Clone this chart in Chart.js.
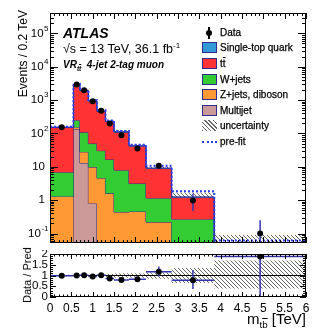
<!DOCTYPE html>
<html>
<head>
<meta charset="utf-8">
<title>m_tb VR tt 4-jet 2-tag muon</title>
<script src="https://cdn.jsdelivr.net/npm/chart.js@4.4.1/dist/chart.umd.min.js"></script>
<style>
body { margin: 0; background: #fff; }
#wrap { position: relative; width: 332px; height: 332px; overflow: hidden; font-family: "Liberation Sans", Arial, Helvetica, sans-serif; color: #000; }
#wrap canvas { position: absolute; left: 0; }
.t { position: absolute; white-space: nowrap; }
.leg { position: absolute; left: 202px; width: 120px; height: 12px; line-height: 12px; font-size: 10px; white-space: nowrap; -webkit-text-stroke: 0.25px #000; }
.leg .sw { position: absolute; left: 0; top: 0; width: 13px; height: 9px; border: 1px solid #2e2a8f; }
.leg .lab { position: absolute; left: 18px; top: 0; }
.ov { text-decoration: overline; }
sup, sub { font-size: 0.65em; line-height: 0; }
</style>
</head>
<body>
<div id="wrap">
  <canvas id="top" width="332" height="250" style="top:0"></canvas>
  <canvas id="ratio" width="332" height="82" style="top:250px"></canvas>

  <div class="t" style="left:63px;top:25px;font:italic bold 14px 'Liberation Sans', Arial, sans-serif;line-height:16px;">ATLAS</div>
  <div class="t" style="left:63px;top:42px;font-size:12.5px;line-height:14px;">√s = 13 TeV, 36.1 fb<sup>-1</sup></div>
  <div class="t" style="left:63px;top:59px;font:italic bold 10px 'Liberation Sans', Arial, sans-serif;line-height:12px;">VR<sub>t<span class="ov">t</span></sub>&nbsp;&nbsp;4-jet 2-tag muon</div>

  <div class="leg" style="top:27px;">
    <span style="position:absolute;left:6px;top:0;width:2px;height:12px;background:#000;"></span>
    <span style="position:absolute;left:4px;top:3px;width:6px;height:6px;border-radius:50%;background:#000;"></span>
    <span class="lab">Data</span>
  </div>
  <div class="leg" style="top:42px;"><span class="sw" style="background:#3399d6;"></span><span class="lab">Single-top quark</span></div>
  <div class="leg" style="top:58px;"><span class="sw" style="background:#ff3333;"></span><span class="lab">t<span class="ov">t</span></span></div>
  <div class="leg" style="top:74px;"><span class="sw" style="background:#33cc33;"></span><span class="lab">W+jets</span></div>
  <div class="leg" style="top:89px;"><span class="sw" style="background:#ff9933;"></span><span class="lab">Z+jets, diboson</span></div>
  <div class="leg" style="top:105px;"><span class="sw" style="background:#cc9999;"></span><span class="lab">Multijet</span></div>
  <div class="leg" style="top:120px;"><span class="sw" style="border:none;width:15px;height:11px;background:repeating-linear-gradient(45deg,#666 0 1px,#fff 1px 3px);"></span><span class="lab">uncertainty</span></div>
  <div class="leg" style="top:136px;"><span style="position:absolute;left:0;top:5px;width:15px;border-top:2px dotted #2a3cf5;"></span><span class="lab">pre-fit</span></div>

  <div class="t" style="left:16px;top:10px;width:14px;writing-mode:vertical-rl;transform:rotate(180deg);font-size:12px;line-height:14px;">Events / 0.2 TeV</div>
  <div class="t" style="left:20px;top:246px;width:14px;height:58px;text-align:center;writing-mode:vertical-rl;transform:rotate(180deg);font-size:11px;line-height:14px;">Data / Pred</div>
  <div class="t" style="right:26px;top:310px;font-size:15px;line-height:18px;">m<sub>t<span class="ov">b</span></sub> [TeV]</div>
</div>

<script>
// bin edges in TeV
const binEdges = [0, 0.55, 0.7, 0.9, 1.1, 1.3, 1.5, 1.85, 2.25, 2.85, 3.85, 6];

// events / 0.2 TeV per process (post-fit), bottom of the stack first
const multijet     = [0, 133, 13, 0.8, 0, 0, 0, 0, 0, 0, 0];
const zjetsDiboson = [1.3, 22, 15, 9, 4.6, 1.6, 0.44, 0.46, 0.22, 0.03, 0.003];
const wjets        = [5.6, 95, 80, 40, 26, 15, 7.5, 2.7, 0.93, 0.24, 0.02];
const ttbar        = [144, 2620, 1797, 883, 430, 209, 101, 38.6, 7.75, 0.94, 0.028];
const singleTop    = [4, 80, 55, 27, 14, 6.5, 3, 1.2, 0.3, 0.04, 0.002];

const preFit      = [160, 3050, 2030, 990, 495, 245, 118, 46, 10.8, 1.85, 0.062];
const dataVals    = [153, 2960, 1980, 920, 480, 200, 88, 35.5, 10.8, 0.97, 0.1];
const dataErrUp   = [12, 55, 45, 30, 22, 15, 10, 5, 2.2, 0.6, 0.15];
const dataErrDown = [12, 55, 45, 30, 22, 15, 10, 5, 2.0, 0.5, 0.1];

// relative uncertainty of the prediction
const uncUp   = [0.03, 0.03, 0.03, 0.03, 0.04, 0.08, 0.1, 0.1, 0.15, 0.35, 0.7];
const uncDown = [0.03, 0.03, 0.03, 0.03, 0.04, 0.08, 0.1, 0.1, 0.15, 0.35, 0.6];

// axis ticks
const logTickExps  = [-1, 0, 1, 2, 3, 4, 5];
const ratioTicks   = [0, 0.5, 1, 1.5, 2];

const nBins = binEdges.length - 1;
const binCenters = binEdges.slice(0, -1).map((e, i) => (e + binEdges[i + 1]) / 2);

// cumulative stack tops (log axis drops zeros, so keep a floor below the axis)
const layers = [multijet, zjetsDiboson, wjets, ttbar, singleTop];
const stackTops = [];
let run = new Array(nBins).fill(0);
layers.forEach(l => {
  run = run.map((v, i) => v + l[i]);
  stackTops.push(run.map(v => Math.max(v, 1e-3)));
});
const total = run;
const ratio = dataVals.map((v, i) => v / total[i]);
const ratioErrUp = dataErrUp.map((v, i) => v / total[i]);
const ratioErrDown = dataErrDown.map((v, i) => v / total[i]);

function steps(vals) {
  return binEdges.map((e, i) => ({ x: e, y: vals[Math.min(i, nBins - 1)] }));
}

function hatch(canvasId) {
  const c = document.createElement('canvas');
  c.width = 4; c.height = 4;
  const g = c.getContext('2d');
  g.strokeStyle = '#666';
  g.lineWidth = 1;
  g.beginPath();
  g.moveTo(0, 0); g.lineTo(4, 4);
  g.moveTo(-1, 3); g.lineTo(1, 5);
  g.moveTo(3, -1); g.lineTo(5, 1);
  g.stroke();
  return document.getElementById(canvasId).getContext('2d').createPattern(c, 'repeat');
}

const edgeColor = '#2e2a8f';
const errColor = '#3535b0';

function makeErrorBars(values, up, down, afterIndex, xbars) {
  return {
    id: 'errbars',
    afterDatasetDraw(chart, args) {
      if (args.index !== afterIndex) return;
      const { ctx, chartArea: a, scales: { x, y } } = chart;
      ctx.save();
      ctx.beginPath();
      ctx.rect(a.left, a.top, a.right - a.left, a.bottom - a.top);
      ctx.clip();
      ctx.strokeStyle = errColor;
      ctx.lineWidth = 1.5;
      values.forEach((v, i) => {
        const px = x.getPixelForValue(binCenters[i]);
        ctx.beginPath();
        ctx.moveTo(px, y.getPixelForValue(v + up[i]));
        ctx.lineTo(px, y.getPixelForValue(Math.max(v - down[i], 0)));
        if (xbars) {
          const py = y.getPixelForValue(v);
          ctx.moveTo(x.getPixelForValue(binEdges[i]), py);
          ctx.lineTo(x.getPixelForValue(binEdges[i + 1]), py);
        }
        ctx.stroke();
      });
      ctx.restore();
    }
  };
}

// frame with ticks on all four sides + y labels
function makeFrame(yTicks, len, drawLabels) {
  return {
    id: 'frame',
    afterDraw(chart) {
      const { ctx, chartArea: a, scales: { x, y } } = chart;
      ctx.save();
      ctx.strokeStyle = '#000';
      ctx.lineWidth = 1;
      ctx.beginPath();
      for (let k = 0; k <= 60; k++) {
        const px = Math.round(x.getPixelForValue(k / 10)) + 0.5;
        const l = k % 5 === 0 ? len.xMajor : len.xMinor;
        ctx.moveTo(px, a.bottom); ctx.lineTo(px, a.bottom - l);
        ctx.moveTo(px, a.top); ctx.lineTo(px, a.top + l);
      }
      yTicks.forEach(t => {
        const py = Math.round(y.getPixelForValue(t.v)) + 0.5;
        const l = t.major ? len.yMajor : len.yMinor;
        ctx.moveTo(a.left, py); ctx.lineTo(a.left + l, py);
        ctx.moveTo(a.right, py); ctx.lineTo(a.right - l, py);
      });
      ctx.stroke();
      ctx.strokeRect(a.left + 0.5, a.top + 0.5, a.right - a.left - 1, a.bottom - a.top - 1);
      drawLabels(ctx, y);
      ctx.restore();
    }
  };
}

const font = '"Liberation Sans", Arial, sans-serif';

// ---------- top panel ----------
const yMin = 0.052, yMax = 4.1e5;
const logTicks = [];
for (let e = -2; e <= 5; e++) {
  for (let m = 1; m <= 9; m++) {
    const v = m * Math.pow(10, e);
    if (v >= yMin && v <= yMax) logTicks.push({ v: v, major: m === 1 });
  }
}

function drawLogLabels(ctx, y) {
  ctx.fillStyle = '#000';
  ctx.textBaseline = 'middle';
  ctx.textAlign = 'right';
  logTickExps.forEach(e => {
    const py = y.getPixelForValue(Math.pow(10, e));
    if (e === 0 || e === 1) {
      ctx.font = '11.5px ' + font;
      ctx.fillText(e === 0 ? '1' : '10', 45, py);
    } else {
      const ex = String(e);
      ctx.font = '8px ' + font;
      const w = ctx.measureText(ex).width;
      ctx.fillText(ex, 48.5, py - 5);
      ctx.font = '11.5px ' + font;
      ctx.fillText('10', 48 - w, py);
    }
  });
}

const stackColors = ['#cc9999', '#ff9933', '#33cc33', '#ff3333', '#3399d6'];
const stackSets = stackTops.map((vals, i) => ({
  data: steps(vals),
  stepped: 'before',
  backgroundColor: stackColors[i],
  borderColor: edgeColor,
  borderWidth: 1,
  pointRadius: 0,
  fill: i === 0 ? 'start' : '+1'
})).reverse();

const topHatch = hatch('top');

new Chart(document.getElementById('top'), {
  type: 'line',
  data: {
    datasets: [
      {
        data: dataVals.map((v, i) => ({ x: binCenters[i], y: v })),
        showLine: false,
        pointRadius: 3,
        pointBackgroundColor: '#000',
        pointBorderColor: '#000',
        pointBorderWidth: 0
      },
      {
        data: steps(preFit),
        stepped: 'before',
        borderColor: '#2a3cf5',
        borderWidth: 2,
        borderDash: [2, 2],
        pointRadius: 0,
        fill: false
      },
      ...stackSets,
      {
        data: steps(total.map((v, i) => v * (1 + uncUp[i]))),
        stepped: 'before',
        borderWidth: 0,
        pointRadius: 0,
        backgroundColor: topHatch,
        fill: '+1'
      },
      {
        data: steps(total.map((v, i) => v * (1 - uncDown[i]))),
        stepped: 'before',
        borderWidth: 0,
        pointRadius: 0,
        fill: false
      }
    ]
  },
  options: {
    responsive: false,
    animation: false,
    devicePixelRatio: 1,
    layout: { padding: { left: 50, right: 26, top: 13, bottom: 7 } },
    scales: {
      x: { type: 'linear', min: 0, max: 6, display: false },
      y: { type: 'logarithmic', min: yMin, max: yMax, display: false }
    },
    plugins: { legend: { display: false }, tooltip: { enabled: false } }
  },
  plugins: [
    makeErrorBars(dataVals, dataErrUp, dataErrDown, 1, false),
    makeFrame(logTicks, { xMajor: 6, xMinor: 3, yMajor: 8, yMinor: 4 }, drawLogLabels)
  ]
});

// ---------- ratio panel ----------
const linTicks = [];
for (let k = 0; k <= 20; k++) linTicks.push({ v: k / 10, major: k % 5 === 0 });

function drawRatioLabels(ctx, y) {
  ctx.fillStyle = '#000';
  ctx.textBaseline = 'middle';
  ctx.textAlign = 'right';
  ctx.font = '11.5px ' + font;
  ratioTicks.forEach(v => ctx.fillText(String(v), 48, y.getPixelForValue(v)));
}

const ratioHatch = hatch('ratio');

new Chart(document.getElementById('ratio'), {
  type: 'line',
  data: {
    datasets: [
      {
        data: ratio.map((v, i) => ({ x: binCenters[i], y: v })),
        showLine: false,
        pointRadius: 3,
        pointBackgroundColor: '#000',
        pointBorderColor: '#000',
        pointBorderWidth: 0
      },
      {
        data: [{ x: 0, y: 1 }, { x: 6, y: 1 }],
        borderColor: '#000',
        borderWidth: 1,
        pointRadius: 0,
        fill: false
      },
      {
        data: steps(uncUp.map(u => 1 + u)),
        stepped: 'before',
        borderWidth: 0,
        pointRadius: 0,
        backgroundColor: ratioHatch,
        fill: '+1'
      },
      {
        data: steps(uncDown.map(u => 1 - u)),
        stepped: 'before',
        borderWidth: 0,
        pointRadius: 0,
        fill: false
      }
    ]
  },
  options: {
    responsive: false,
    animation: false,
    devicePixelRatio: 1,
    layout: { padding: { left: 50, right: 26, top: 4, bottom: 0 } },
    scales: {
      x: {
        type: 'linear', min: 0, max: 6,
        afterFit: s => { s.height = 35; },
        grid: { display: false, drawTicks: false },
        border: { display: false },
        ticks: {
          stepSize: 0.5, autoSkip: false, maxRotation: 0, padding: 4,
          color: '#000', font: { size: 12, family: font },
          callback: v => String(Math.round(v * 10) / 10)
        }
      },
      y: { type: 'linear', min: 0, max: 2, display: false }
    },
    plugins: { legend: { display: false }, tooltip: { enabled: false } }
  },
  plugins: [
    makeErrorBars(ratio, ratioErrUp, ratioErrDown, 1, true),
    makeFrame(linTicks, { xMajor: 5, xMinor: 2.5, yMajor: 6, yMinor: 3 }, drawRatioLabels)
  ]
});
</script>
</body>
</html>
